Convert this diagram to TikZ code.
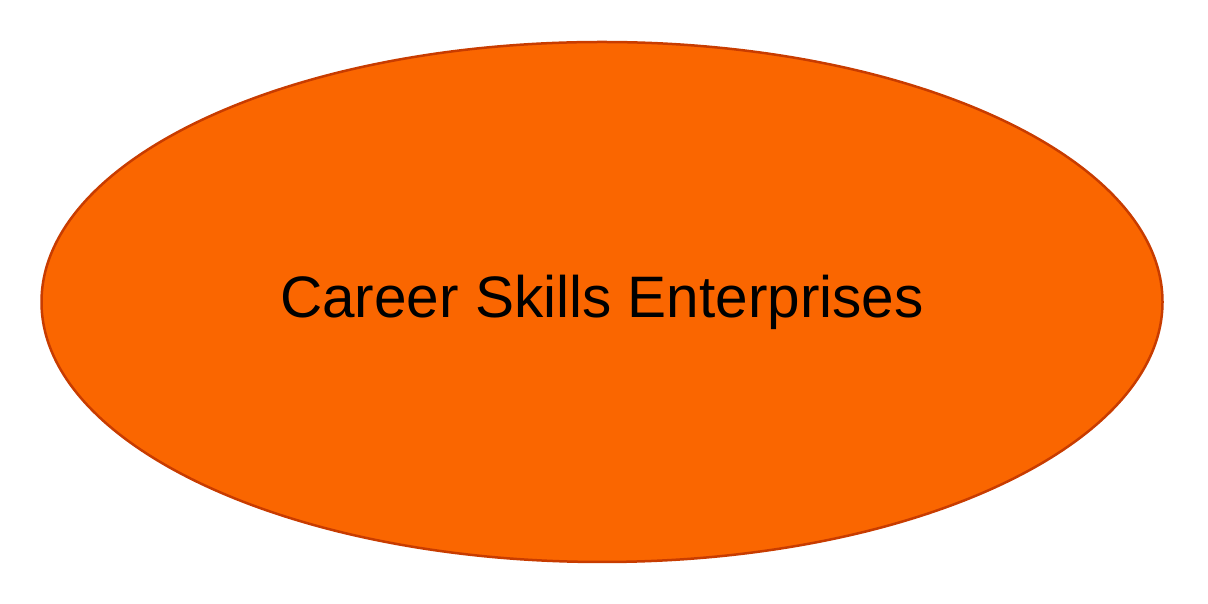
\documentclass[tikz,border=0pt]{standalone}
\usepackage{fontspec}
\setmainfont{Liberation Sans}
\usetikzlibrary{shapes.geometric}
\definecolor{orangefill}{HTML}{FA6600}
\definecolor{orangeline}{HTML}{C83C00}
\tikzstyle{company} = [ellipse,fill=orangefill,draw=orangeline,line width=2.5pt,minimum width=1121pt,minimum height=520pt,inner sep=0pt,font=\fontsize{58.5}{66}\selectfont]

\begin{document}
\begin{tikzpicture}[x=1pt,y=1pt]
		\useasboundingbox (0,0) rectangle (1208,604);
		\node[company] (cse) at (602,302) {Career Skills Enterprises};
		\end{tikzpicture}
\end{document}
